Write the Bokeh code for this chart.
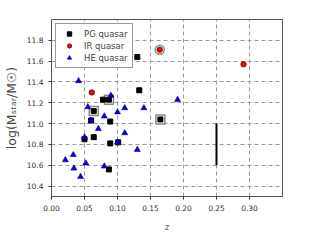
from bokeh.plotting import figure
from bokeh.models import Range1d, FixedTicker, Legend, LegendItem, CustomJSTickFormatter
from bokeh.embed import file_html
from bokeh.resources import INLINE

# PG quasars
pg_z = [0.130, 0.133, 0.078, 0.087, 0.064, 0.060, 0.089, 0.064, 0.050, 0.089, 0.101, 0.087, 0.165]
pg_m = [11.64, 11.32, 11.23, 11.23, 11.12, 11.03, 11.02, 10.87, 10.85, 10.81, 10.82, 10.56, 11.04]
# IR quasars
ir_z = [0.061, 0.164, 0.291]
ir_m = [11.30, 11.71, 11.57]
# HE quasars
he_z = [0.041, 0.090, 0.191, 0.055, 0.111, 0.140, 0.100, 0.080, 0.060, 0.071, 0.111,
        0.050, 0.100, 0.130, 0.033, 0.021, 0.052, 0.080, 0.034, 0.044]
he_m = [11.41, 11.27, 11.23, 11.16, 11.15, 11.15, 11.11, 11.07, 11.03, 10.95, 10.91,
        10.87, 10.82, 10.75, 10.70, 10.65, 10.62, 10.59, 10.57, 10.49]
# highlighted objects
ring_sq_z = [0.087, 0.064, 0.165]
ring_sq_m = [11.23, 11.12, 11.04]
ring_ci_z = [0.164]
ring_ci_m = [11.71]
# typical error bar
err_z = [0.25]
err_lo = [10.6]
err_hi = [11.0]

x_ticks = [0.00, 0.05, 0.10, 0.15, 0.20, 0.25, 0.30]
y_ticks = [10.4, 10.6, 10.8, 11.0, 11.2, 11.4, 11.6, 11.8]

p = figure(width=318, height=234, x_range=Range1d(0, 0.35), y_range=Range1d(10.3, 12.0),
           output_backend="svg", toolbar_location=None,
           min_border_left=42, min_border_right=36, min_border_top=19, min_border_bottom=30)
p.background_fill_color = "white"
p.border_fill_color = "white"
p.outline_line_color = "#555555"
p.outline_line_width = 1

for ax in (p.xaxis[0], p.yaxis[0]):
    ax.major_label_text_font = "DejaVu Sans"
    ax.major_label_text_font_size = "7.5px"
    ax.major_label_text_color = "#333333"
    ax.axis_line_color = None
    ax.major_tick_line_color = "#333333"
    ax.major_tick_in = 0
    ax.major_tick_out = 3
    ax.minor_tick_line_color = None

p.xaxis.ticker = FixedTicker(ticks=x_ticks)
p.yaxis.ticker = FixedTicker(ticks=y_ticks)
p.xaxis.formatter = CustomJSTickFormatter(code="return tick.toFixed(2);")
p.yaxis.formatter = CustomJSTickFormatter(code="return tick.toFixed(1);")

p.xaxis.axis_label = "z"
p.xaxis.axis_label_text_font = "DejaVu Serif"
p.xaxis.axis_label_text_font_style = "italic"
p.xaxis.axis_label_text_font_size = "9px"
p.xaxis.axis_label_standoff = 8
p.yaxis.axis_label = "log(Mₛₜₐᵣ/M☉)"
p.yaxis.axis_label_text_font = "DejaVu Sans"
p.yaxis.axis_label_text_font_style = "normal"
p.yaxis.axis_label_text_font_size = "12.5px"
p.yaxis.axis_label_standoff = 5

for g in (p.xgrid[0], p.ygrid[0]):
    g.grid_line_color = "#999999"
    g.grid_line_dash = "4 3"
    g.grid_line_width = 1
p.xgrid.ticker = FixedTicker(ticks=x_ticks)
p.ygrid.ticker = FixedTicker(ticks=y_ticks)

p.scatter(ring_sq_z, ring_sq_m, marker="square", size=9, fill_color="white",
          line_color="#888888", line_width=1.5)
p.scatter(ring_ci_z, ring_ci_m, marker="circle", size=9, fill_color="white",
          line_color="#888888", line_width=1.5)

r_pg = p.scatter(pg_z, pg_m, marker="square", size=5, fill_color="black", line_color="black")
r_ir = p.scatter(ir_z, ir_m, marker="circle", size=5.5, fill_color="red", line_color="black",
                 line_width=0.6)
r_he = p.scatter(he_z, he_m, marker="triangle", size=6, fill_color="#0000dd", line_color="#000066",
                 line_width=0.6)

p.segment(x0=err_z, y0=err_lo, x1=err_z, y1=err_hi, line_color="black", line_width=2)

legend = Legend(items=[LegendItem(label="PG quasar", renderers=[r_pg]),
                       LegendItem(label="IR quasar", renderers=[r_ir]),
                       LegendItem(label="HE quasar", renderers=[r_he])],
                location="top_left")
legend.label_text_font = "DejaVu Sans"
legend.label_text_font_size = "8.5px"
legend.label_height = 11
legend.glyph_height = 11
legend.glyph_width = 18
legend.label_standoff = 6
legend.spacing = 1
legend.padding = 4
legend.margin = 4
legend.border_line_color = "#333333"
legend.border_line_width = 1
legend.background_fill_alpha = 1
p.add_layout(legend, "center")

open("out.html", "w").write(file_html(p, INLINE))
